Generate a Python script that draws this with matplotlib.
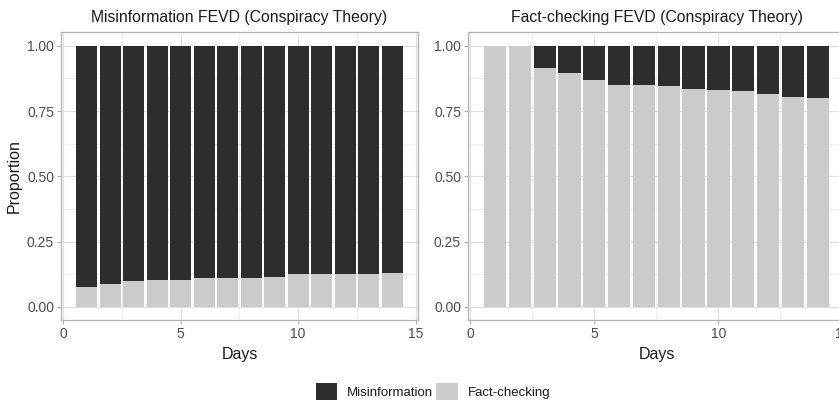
import numpy as np
import matplotlib.pyplot as plt
from matplotlib.patches import Patch
from matplotlib.ticker import MultipleLocator

# FEVD shares, days 1..14
days = np.arange(1, 15)
# Misinformation FEVD: share explained by fact-checking
mis_fact_share = [0.076, 0.089, 0.098, 0.102, 0.102, 0.109, 0.109,
                  0.109, 0.114, 0.127, 0.127, 0.127, 0.127, 0.131]
# Fact-checking FEVD: share explained by fact-checking
fc_fact_share = [1.0, 1.0, 0.917, 0.897, 0.869, 0.851, 0.851,
                 0.847, 0.834, 0.830, 0.827, 0.814, 0.805, 0.801]

titles = ["Misinformation FEVD (Conspiracy Theory)",
          "Fact-checking FEVD (Conspiracy Theory)"]
series_names = ["Misinformation", "Fact-checking"]
y_ticks = [0.0, 0.25, 0.5, 0.75, 1.0]
y_ticklabels = ["0.00", "0.25", "0.50", "0.75", "1.00"]
x_ticks = [0, 5, 10, 15]

DARK = "#2d2d2d"
LIGHT = "#cbcbcb"
GRID = "#e0e0e0"
BORDER = "#b3b3b3"
TEXT = "#4d4d4d"

plt.rcParams["font.family"] = ["Liberation Sans", "DejaVu Sans"]

fig = plt.figure(figsize=(8.39, 4.0), dpi=100)
ax1 = fig.add_axes([61 / 839, 0.2, (418 - 61) / 839, 0.72])
ax2 = fig.add_axes([468 / 839, 0.2, 377 / 839, 0.72])

for ax, fact, title in zip([ax1, ax2], [mis_fact_share, fc_fact_share], titles):
    fact = np.array(fact)
    mis = 1 - fact
    ax.bar(days, fact, width=0.9, color=LIGHT, zorder=2)
    ax.bar(days, mis, bottom=fact, width=0.9, color=DARK, zorder=2)

    ax.set_xlim(-0.09, 15.1)
    ax.set_ylim(-0.05, 1.053)
    ax.set_xticks(x_ticks)
    ax.set_yticks(y_ticks)
    ax.set_yticklabels(y_ticklabels)
    ax.xaxis.set_minor_locator(MultipleLocator(2.5))
    ax.yaxis.set_minor_locator(MultipleLocator(0.125))
    ax.grid(which="major", color=GRID, linewidth=0.9, zorder=0)
    ax.grid(which="minor", color="#ececec", linewidth=0.6, zorder=0)
    ax.set_axisbelow(True)
    for s in ax.spines.values():
        s.set_color(BORDER)
        s.set_linewidth(0.9)
    ax.tick_params(which="major", length=3, color=BORDER, labelcolor=TEXT,
                   labelsize=10, pad=2)
    ax.tick_params(which="minor", length=0)
    ax.set_title(title, fontsize=11.3, color="#1a1a1a", pad=7)
    ax.set_xlabel("Days", fontsize=11.5, color="#1a1a1a", labelpad=4)

ax1.set_ylabel("Proportion", fontsize=11.5, color="#1a1a1a", labelpad=4)

handles = [Patch(facecolor=DARK, label=series_names[0]),
           Patch(facecolor=LIGHT, label=series_names[1])]
fig.legend(handles=handles, loc="center", bbox_to_anchor=(0.516, 0.022),
           ncol=2, frameon=False, fontsize=9.5, handlelength=1.65,
           handleheight=1.65, handletextpad=0.75, columnspacing=0.2,
           labelcolor="#1a1a1a", borderpad=0.2)

fig.savefig("out.png", dpi=100)
plt.close(fig)
